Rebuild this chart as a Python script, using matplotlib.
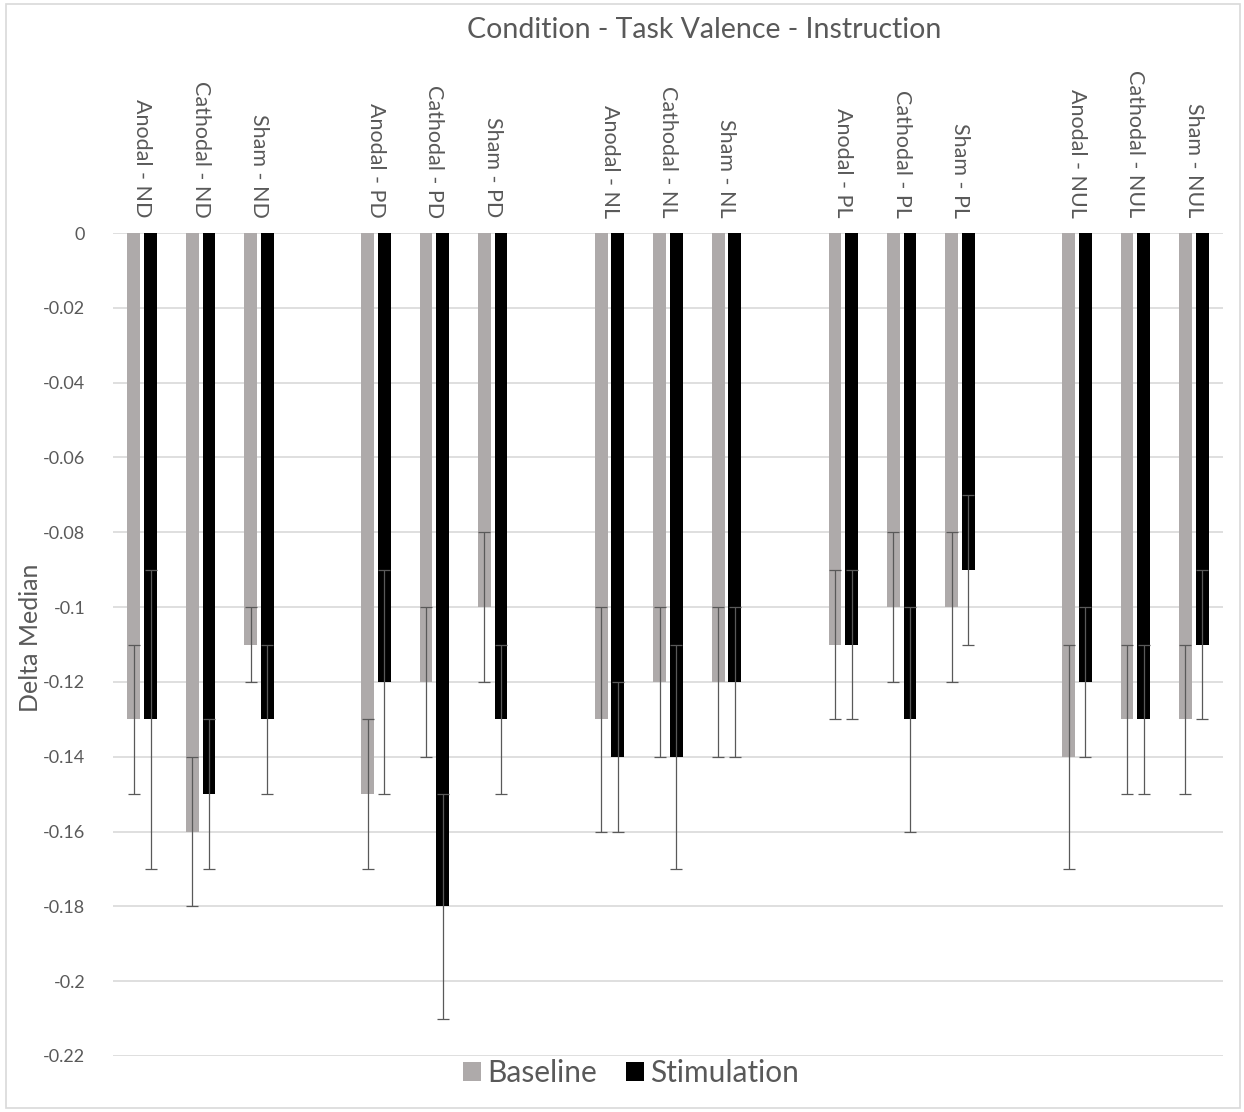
import numpy as np
import matplotlib
matplotlib.use('Agg')
import matplotlib.pyplot as plt
from matplotlib.patches import Rectangle

plt.rcParams['font.family'] = ['Lato', 'DejaVu Sans']

# data
groups = ['ND', 'PD', 'NL', 'PL', 'NUL']
conditions = ['Anodal', 'Cathodal', 'Sham']
labels = [f'{c} - {g}' for g in groups for c in conditions]

baseline = [-0.13, -0.16, -0.11, -0.15, -0.12, -0.10, -0.13, -0.12, -0.12,
            -0.11, -0.10, -0.10, -0.14, -0.13, -0.13]
baseline_err = [0.02, 0.02, 0.01, 0.02, 0.02, 0.02, 0.03, 0.02, 0.02,
                0.02, 0.02, 0.02, 0.03, 0.02, 0.02]
stimulation = [-0.13, -0.15, -0.13, -0.12, -0.18, -0.13, -0.14, -0.14, -0.12,
               -0.11, -0.13, -0.09, -0.12, -0.13, -0.11]
stimulation_err = [0.04, 0.02, 0.02, 0.03, 0.03, 0.02, 0.02, 0.03, 0.02,
                   0.02, 0.03, 0.02, 0.02, 0.02, 0.02]
yticks = np.arange(0, -0.2201, -0.02)

txt = '#595959'
grey = '#AEAAAA'
W, H = 1244, 1112

fig = plt.figure(figsize=(W/100, H/100), dpi=100)
ax = fig.add_axes([113/W, 1-1056/H, (1223-113)/W, (1056-233)/H])

# one empty slot between every group of three
x = np.array([g*4 + i for g in range(len(groups)) for i in range(len(conditions))])
bw = 0.22
off = 0.142
ekw = dict(ecolor='#595959', elinewidth=0.9, capsize=4.5, capthick=0.9)
ax.bar(x-off, baseline, bw, color=grey, yerr=baseline_err, error_kw=ekw, label='Baseline', zorder=2)
ax.bar(x+off, stimulation, bw, color='black', yerr=stimulation_err, error_kw=ekw, label='Stimulation', zorder=2)

ax.set_xlim(-0.5, 18.5)
ax.set_ylim(-0.22, 0)
ax.set_yticks(yticks)
ax.set_yticklabels(['0' if abs(v) < 1e-9 else f'{v:g}' for v in yticks])
ax.grid(axis='y', color='#D9D9D9', lw=1.2, zorder=0)
ax.set_axisbelow(True)
for s in ax.spines.values():
    s.set_visible(False)

ax.set_xticks(x)
ax.set_xticklabels(labels, rotation=-90)
ax.tick_params(axis='x', top=True, bottom=False, labeltop=True, labelbottom=False,
               length=0, pad=11, labelsize=15.5, labelcolor=txt)
ax.tick_params(axis='y', length=0, pad=20, labelsize=13, labelcolor=txt)

fig.text(704/W, 1-30/H, 'Condition - Task Valence - Instruction', ha='center', va='center',
         fontsize=20.5, color=txt)
fig.text(31/W, 1-638/H, 'Delta Median', rotation=90, ha='center', va='center',
         fontsize=18, color=txt)

fig.legend(loc='center', bbox_to_anchor=(631/W, 1-1073/H), ncol=2, frameon=False,
           fontsize=21.5, labelcolor=txt, handlelength=0.6, handleheight=0.6,
           handletextpad=0.2, columnspacing=1.0)

fig.add_artist(Rectangle((6/W, 4/H), 1234/W, 1104/H, transform=fig.transFigure,
                         fill=False, edgecolor='#D9D9D9', lw=1.2))

fig.savefig('out.png', dpi=100)
